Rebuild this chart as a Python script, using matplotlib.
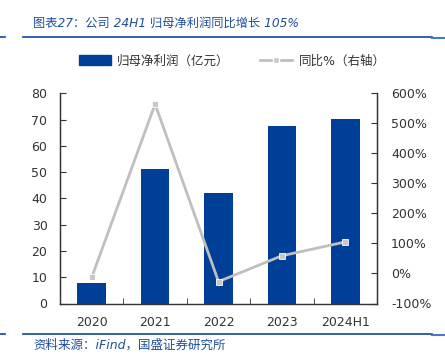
import numpy as np
import matplotlib.pyplot as plt
from matplotlib.lines import Line2D
from matplotlib.patches import Patch

plt.rcParams['font.family'] = ['DejaVu Sans', 'Noto Sans CJK SC']

years = ['2020', '2021', '2022', '2023', '2024H1']
profit = [7.9, 51.2, 42.1, 67.6, 70.3]          # 归母净利润（亿元）
yoy = [-13, 564, -27, 59, 105]                   # 同比%

bar_color = '#003F98'
line_color = '#BFBFBF'
text_blue = '#1F4E9B'

fig = plt.figure(figsize=(4.45, 3.6), dpi=100)
ax1 = fig.add_axes([60/445, 1-303.5/360, 317/445, 210.2/360])
ax2 = ax1.twinx()

x = np.arange(len(years))
ax1.bar(x, profit, width=0.45, color=bar_color, zorder=2)
ax2.plot(x, yoy, color=line_color, lw=2, marker='s', ms=5,
         markerfacecolor='#C8C8C8', markeredgecolor='white', markeredgewidth=0.6, zorder=3)

ax1.set_xlim(-0.5, len(years)-0.5)
ax1.set_ylim(0, 80)
ax1.set_yticks(range(0, 81, 10))
ax2.set_ylim(-100, 600)
ax2.set_yticks(range(-100, 601, 100))
ax2.set_yticklabels([f'{v}%' for v in range(-100, 601, 100)])

ax1.set_xticks(x)
ax1.set_xticklabels(years)
ax1.set_xticks(np.arange(0.5, len(years)-1, 1), minor=True)
ax1.tick_params(axis='x', which='major', length=0, pad=9, labelsize=9, colors='#333333')
ax1.tick_params(axis='x', which='minor', length=4, direction='in', color='#333333')
ax1.tick_params(axis='y', length=4, direction='in', labelsize=9, colors='#333333', pad=9)
ax2.tick_params(axis='y', length=4, direction='in', labelsize=9, colors='#333333', pad=10)
for a in (ax1, ax2):
    for s in a.spines.values():
        s.set_color('#333333')
        s.set_linewidth(0.9)
    a.spines['top'].set_visible(False)
ax1.spines['bottom'].set_color('#555555')

# legend
handles = [Patch(color=bar_color),
           Line2D([], [], color=line_color, lw=2, marker='s', ms=4,
                  markerfacecolor='#C8C8C8', markeredgecolor='white')]
fig.legend(handles, ['归母净利润（亿元）', '同比%（右轴）'], loc='center',
           bbox_to_anchor=(232/445, 1-61/360), ncol=2, frameon=False,
           fontsize=9, handlelength=2.6, handleheight=0.9, columnspacing=2.4,
           handletextpad=0.5, labelcolor='#333333')

# title and footer
fig.text(33/445, 1-23/360, '图表27：公司 24H1 归母净利润同比增长 105%', fontsize=8.8,
         style='italic', color=text_blue, va='center', ha='left')
fig.text(33/445, 1-345/360, '资料来源：iFind，国盛证券研究所', fontsize=9,
         style='italic', color=text_blue, va='center', ha='left')
for yy in (37, 334):
    fig.add_artist(Line2D([23/445, 432/445], [1-yy/360]*2, color='#0E47A1', lw=1.2))
    fig.add_artist(Line2D([0, 5/445], [1-yy/360]*2, color='#0E47A1', lw=1.2))
    fig.add_artist(Line2D([432/445, 1], [1-(yy+1)/360]*2, color='#4A78C2', lw=1.5))

fig.savefig('out.png', dpi=100)
